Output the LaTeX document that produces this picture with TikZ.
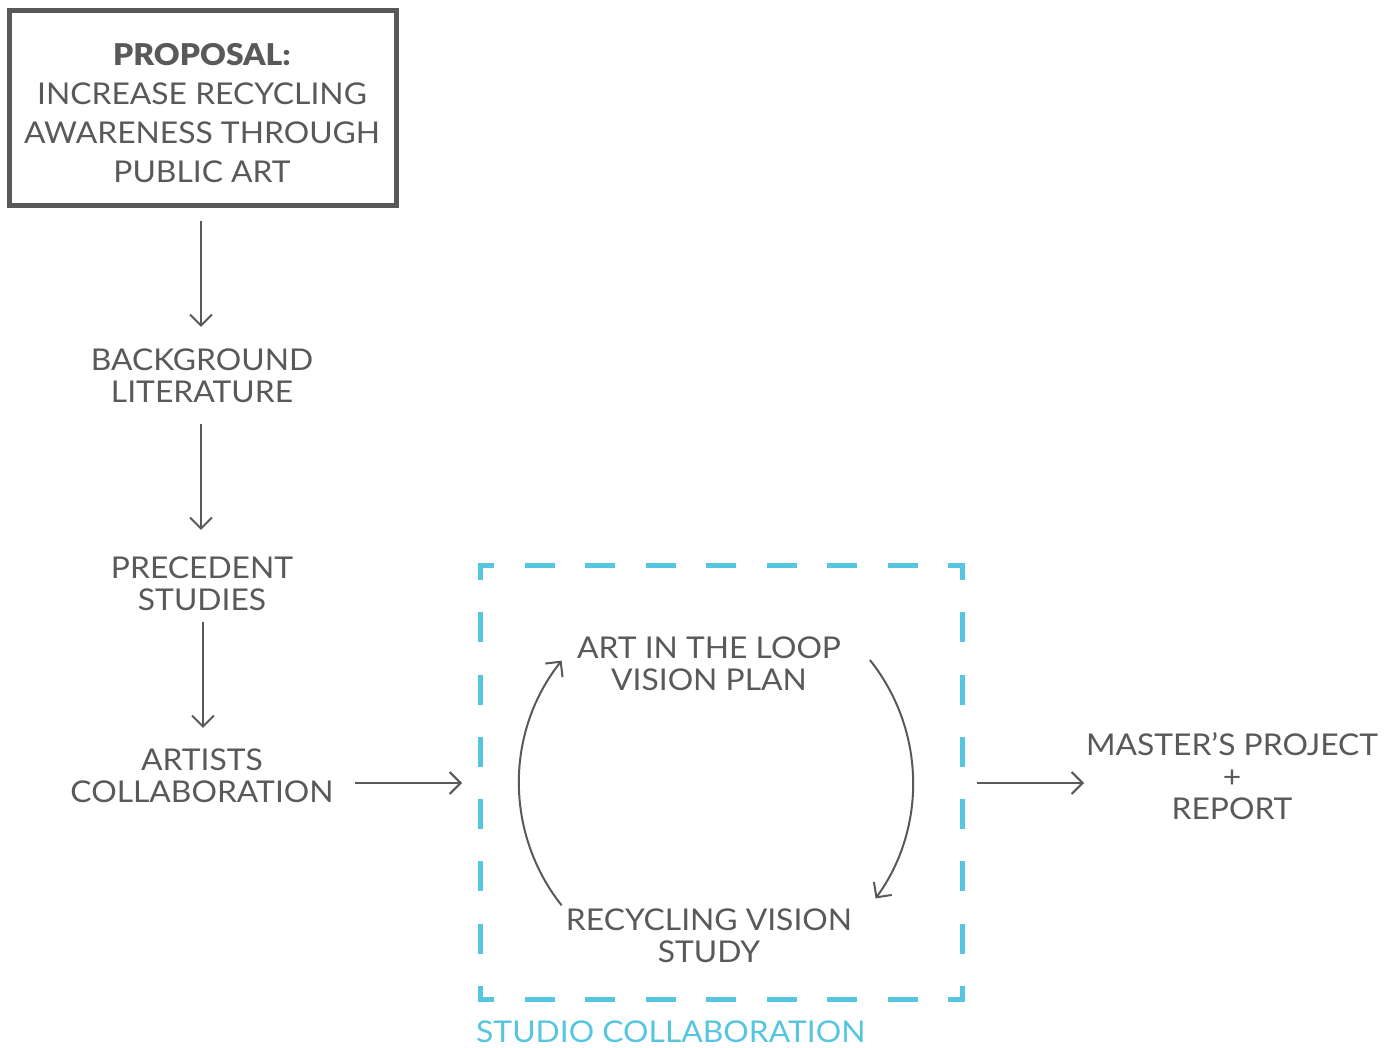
\documentclass[tikz,border=0pt]{standalone}
\usepackage{fontspec}
\setmainfont{Lato}[FakeStretch=1.06, BoldFont={Lato Black}, BoldFeatures={FakeStretch=1.06}]
\usetikzlibrary{arrows.meta,calc}
\definecolor{ink}{HTML}{58595B}
\definecolor{studio}{HTML}{56C5E0}
\tikzset{
  label/.style={text=ink, align=center, font=\fontsize{30}{32}\selectfont, inner sep=0pt},
  flow/.style={draw=ink, line width=2pt, -{Straight Barb[length=11pt,width=22pt,line width=2pt]}},
  dashseg/.style={draw=studio, line width=5pt},
}
\begin{document}
\begin{tikzpicture}[x=1pt,y=1pt]
\useasboundingbox (0,0) rectangle (1387,1047);

% proposal box
\draw[ink, line width=5pt] (9.5,841.5) rectangle (396.5,1036.5);
\node[label, font=\fontsize{30}{39}\selectfont] (prop) at (202,934)
  {\textbf{PROPOSAL:}\\INCREASE RECYCLING\\AWARENESS THROUGH\\PUBLIC ART};

\coordinate (p1) at (201,826);
\node[label] (bg) at (202,671) {BACKGROUND\\LITERATURE};
\node[label] (pre) at (202,463) {PRECEDENT\\STUDIES};
\node[label] (art) at (202,271) {ARTISTS\\COLLABORATION};

\draw[flow] (p1) -- (201,720);
\draw[flow] (201,623) -- (201,517);
\draw[flow] (203,425) -- (203,319);

% studio collaboration frame
\coordinate (sw) at (480,47);
\coordinate (ne) at (962,481);
\draw[dashseg] (480,467) -- (480,481) -- (494,481);
\draw[dashseg] (948,481) -- (962,481) -- (962,467);
\draw[dashseg] (480,61) -- (480,47) -- (494,47);
\draw[dashseg] (948,47) -- (962,47) -- (962,61);
\foreach \i in {0,...,6} {
  \draw[dashseg] ({524.5+60.5*\i},481) -- ({554.5+60.5*\i},481);
  \draw[dashseg] ({524.5+60.5*\i},47) -- ({554.5+60.5*\i},47);
}
\foreach \i in {0,...,5} {
  \draw[dashseg] (480,{434.7-62.3*\i}) -- (480,{404.7-62.3*\i});
  \draw[dashseg] (962,{434.7-62.3*\i}) -- (962,{404.7-62.3*\i});
}
\node[text=studio, font=\fontsize{30}{32}\selectfont, anchor=west, inner sep=0pt] (studio) at (476,15) {STUDIO COLLABORATION};

\coordinate (ctr) at (716,264);
\node[label] (loop) at (709,383) {ART IN THE LOOP\\VISION PLAN};
\node[label] (study) at (709,111) {RECYCLING VISION\\STUDY};
\draw[flow] ($(ctr)+(218.4:197)$) arc[start angle=218.4, end angle=141.6, radius=197];
\draw[flow] ($(ctr)+(38.6:197)$) arc[start angle=38.6, end angle=-35.9, radius=197];

\coordinate (in) at (355,264);
\draw[flow] (in) -- (462,264);
\coordinate (out) at (977,264);
\node[label] (mp) at (1232,271) {MASTER’S PROJECT\\+\\REPORT};
\draw[flow] (out) -- (1084,264);
\end{tikzpicture}
\end{document}
